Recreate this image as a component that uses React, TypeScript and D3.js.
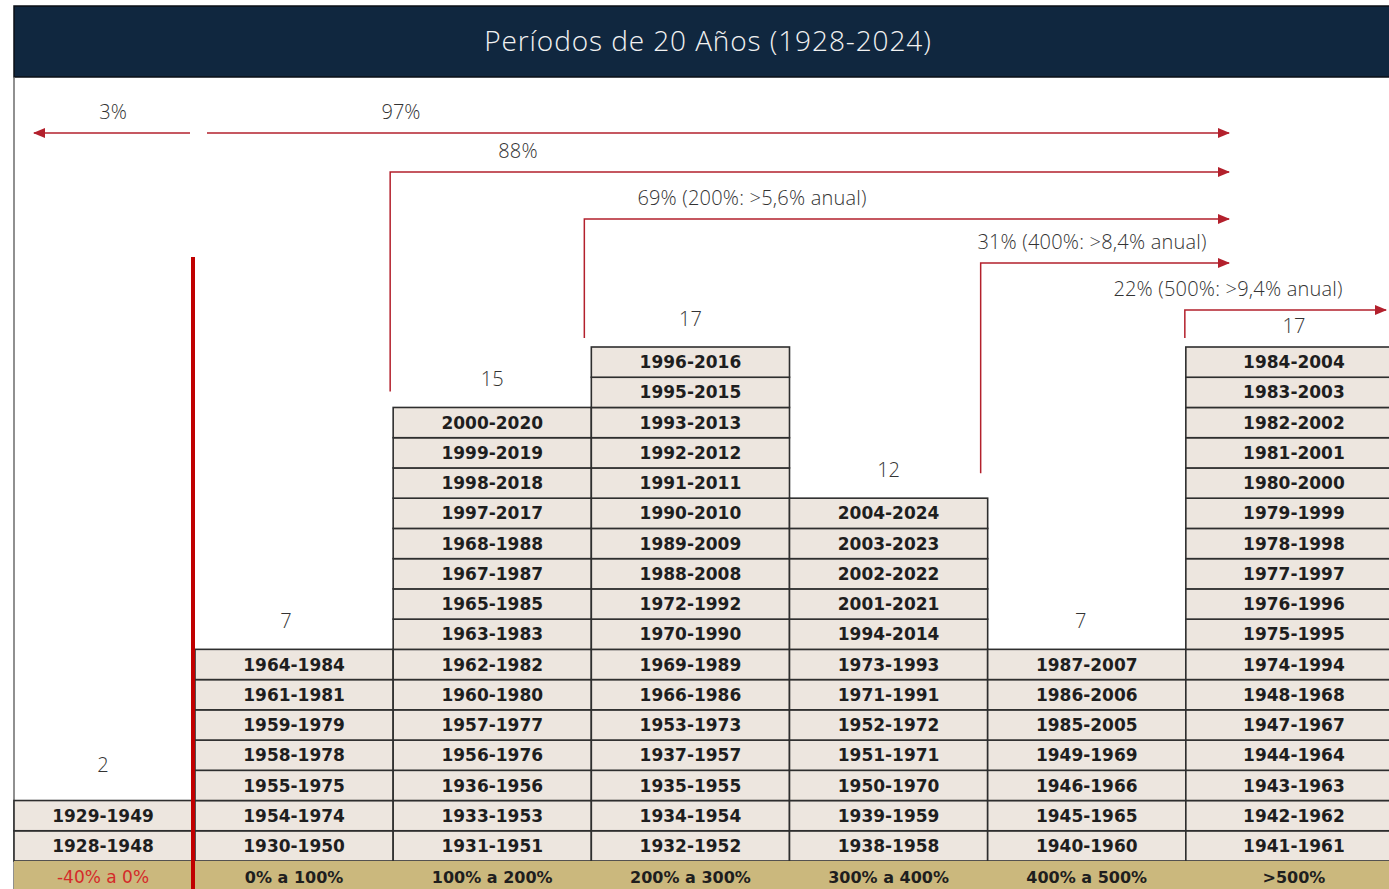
import * as d3 from "d3"

const CATEGORIES = ["-40% a 0%", "0% a 100%", "100% a 200%", "200% a 300%", "300% a 400%", "400% a 500%", ">500%"]

// periods per bucket, listed bottom to top
const PERIODS_NEG = ["1928-1948", "1929-1949"]
const PERIODS_0_100 = ["1930-1950", "1954-1974", "1955-1975", "1958-1978", "1959-1979", "1961-1981", "1964-1984"]
const PERIODS_100_200 = [
  "1931-1951", "1933-1953", "1936-1956", "1956-1976", "1957-1977", "1960-1980", "1962-1982", "1963-1983",
  "1965-1985", "1967-1987", "1968-1988", "1997-2017", "1998-2018", "1999-2019", "2000-2020",
]
const PERIODS_200_300 = [
  "1932-1952", "1934-1954", "1935-1955", "1937-1957", "1953-1973", "1966-1986", "1969-1989", "1970-1990",
  "1972-1992", "1988-2008", "1989-2009", "1990-2010", "1991-2011", "1992-2012", "1993-2013", "1995-2015", "1996-2016",
]
const PERIODS_300_400 = [
  "1938-1958", "1939-1959", "1950-1970", "1951-1971", "1952-1972", "1971-1991", "1973-1993", "1994-2014",
  "2001-2021", "2002-2022", "2003-2023", "2004-2024",
]
const PERIODS_400_500 = ["1940-1960", "1945-1965", "1946-1966", "1949-1969", "1985-2005", "1986-2006", "1987-2007"]
const PERIODS_500 = [
  "1941-1961", "1942-1962", "1943-1963", "1944-1964", "1947-1967", "1948-1968", "1974-1994", "1975-1995",
  "1976-1996", "1977-1997", "1978-1998", "1979-1999", "1980-2000", "1981-2001", "1982-2002", "1983-2003", "1984-2004",
]
const PERIODS = [PERIODS_NEG, PERIODS_0_100, PERIODS_100_200, PERIODS_200_300, PERIODS_300_400, PERIODS_400_500, PERIODS_500]

// cumulative share annotations: label, first bucket covered
const SHARE_LABELS = ["88%", "69% (200%: >5,6% anual)", "31% (400%: >8,4% anual)", "22% (500%: >9,4% anual)"]
const SHARE_FROM = [2, 3, 5, 6]

const TITLE = "Períodos de 20 Años (1928-2024)"

const W = 1389
const H = 889
const LEFT = 14
const DIVIDER = 193
const TITLE_TOP = 6
const TITLE_BOTTOM = 77
const CAT_TOP = 861
const RED = "#c00000"
const ARROW = "#b3202c"
const CELL = "#ede6df"
const TAN = "#cbb87d"
const BORDER = "#2e2e2e"

// layout tweaks for the annotation rows
const ROW_Y = [172, 219, 263, 310]
const LABEL_X = [518, 752, 1092, 1228]
const DROP_DY = [16, 9, 25, 9]
const START_DX = [-3, -7, -7, -1]
const ARROW_END = [1229, 1229, 1229, 1386]

export default function App() {
  const last = CATEGORIES.length - 1
  const xMain = d3
    .scaleBand<number>()
    .domain(d3.range(1, CATEGORIES.length))
    .range([195, 1384])
  const colX0 = (i: number) => (i === 0 ? LEFT : (xMain(i) as number))
  const colW = (i: number) =>
    i === 0 ? DIVIDER - LEFT - 1 : i === last ? W + 2 - colX0(i) : xMain.bandwidth()
  // the last column runs past the page edge, so its labels sit a bit further right
  const colMid = (i: number) => colX0(i) + (i === last ? xMain.bandwidth() + 18 : colW(i)) / 2

  const maxCount = d3.max(PERIODS, (p) => p.length) as number
  const y = d3.scaleLinear().domain([0, maxCount]).range([CAT_TOP, 347])
  const rowH = y(0) - y(1)

  const total = d3.sum(PERIODS, (p) => p.length)
  const negShare = Math.round((PERIODS[0].length / total) * 100)

  const lightFont = "'Open Sans', 'Noto Sans', sans-serif"
  const boldFont = "'DejaVu Sans', sans-serif"

  return (
    <svg
      width={W}
      height={H}
      viewBox={`0 0 ${W} ${H}`}
      style={{ position: "absolute", left: 0, top: 0, display: "block", background: "#fff" }}
    >
      <defs>
        <marker id="ah" viewBox="0 0 12 10" refX={11} refY={5} markerWidth={12} markerHeight={10} markerUnits="userSpaceOnUse" orient="auto">
          <path d="M0,0 L12,5 L0,10 Z" fill={ARROW} />
        </marker>
      </defs>

      {/* title bar */}
      <rect x={LEFT} y={TITLE_TOP} width={W - LEFT + 2} height={TITLE_BOTTOM - TITLE_TOP} fill="#10273f" stroke="#0a0f16" strokeWidth={1.5} />
      <text
        x={708}
        y={(TITLE_TOP + TITLE_BOTTOM) / 2}
        dy="0.35em"
        textAnchor="middle"
        fill="#f2f2f2"
        fontFamily={lightFont}
        fontWeight={300}
        fontSize={28}
        letterSpacing={0.9}
      >
        {TITLE}
      </text>
      <line x1={LEFT} x2={LEFT} y1={TITLE_BOTTOM} y2={H} stroke="#6b6b6b" strokeWidth={1.5} />

      {/* top-level split arrows */}
      <text x={113} y={112} dy="0.35em" textAnchor="middle" fill="#333" fontFamily={lightFont} fontSize={20} fontWeight={300}>
        {`${negShare}%`}
      </text>
      <line x1={190} x2={34} y1={133} y2={133} stroke={ARROW} strokeWidth={1.5} markerEnd="url(#ah)" />
      <text x={401} y={112} dy="0.35em" textAnchor="middle" fill="#333" fontFamily={lightFont} fontSize={20} fontWeight={300}>
        {`${100 - negShare}%`}
      </text>
      <line x1={207} x2={1229} y1={133} y2={133} stroke={ARROW} strokeWidth={1.5} markerEnd="url(#ah)" />

      {SHARE_LABELS.map((label, k) => {
        const i = SHARE_FROM[k]
        const sx = colX0(i) + START_DX[k]
        const dropTo = y(k === 2 ? PERIODS[4].length : PERIODS[i].length) - DROP_DY[k]
        return (
          <g key={label}>
            <text
              x={LABEL_X[k]}
              y={ROW_Y[k] - 21}
              dy="0.35em"
              textAnchor="middle"
              fill="#333"
              fontFamily={lightFont}
              fontSize={20}
              fontWeight={300}
              letterSpacing={0.2}
            >
              {label}
            </text>
            <path
              d={`M${sx},${dropTo} L${sx},${ROW_Y[k]} L${ARROW_END[k]},${ROW_Y[k]}`}
              fill="none"
              stroke={ARROW}
              strokeWidth={1.5}
              markerEnd="url(#ah)"
            />
          </g>
        )
      })}

      {/* stacked period cells */}
      {PERIODS.map((periods, i) => (
        <g key={CATEGORIES[i]}>
          {periods.map((p, r) => (
            <g key={p}>
              <rect x={colX0(i)} y={y(r + 1)} width={colW(i)} height={rowH} fill={CELL} stroke={BORDER} strokeWidth={1.6} />
              <text
                x={colMid(i)}
                y={y(r + 0.5)}
                dy="0.36em"
                textAnchor="middle"
                fill="#1e1e1e"
                fontFamily={boldFont}
                fontWeight={700}
                fontSize={17}
              >
                {p}
              </text>
            </g>
          ))}
          <text
            x={colMid(i) - (i === 1 ? 8 : i === 5 ? 6 : 0)}
            y={y(periods.length) - (i === 0 ? 36 : i === last ? 21 : 28)}
            dy="0.35em"
            textAnchor="middle"
            fill="#333"
            fontFamily={lightFont}
            fontSize={20}
            fontWeight={300}
          >
            {periods.length}
          </text>
        </g>
      ))}

      {/* category row */}
      <rect x={LEFT} y={CAT_TOP} width={W - LEFT} height={H - CAT_TOP} fill={TAN} />
      {CATEGORIES.map((c, i) => (
        <text
          key={c}
          x={colMid(i)}
          y={(CAT_TOP + H) / 2 + 2}
          dy="0.35em"
          textAnchor="middle"
          fill={i === 0 ? "#d42a2a" : "#1e1e1e"}
          fontFamily={boldFont}
          fontWeight={i === 0 ? 400 : 700}
          fontSize={i === 0 ? 17 : 16}
        >
          {c}
        </text>
      ))}

      {/* divider between losses and gains */}
      <line x1={DIVIDER} x2={DIVIDER} y1={257} y2={H} stroke={RED} strokeWidth={4} />
    </svg>
  )
}
